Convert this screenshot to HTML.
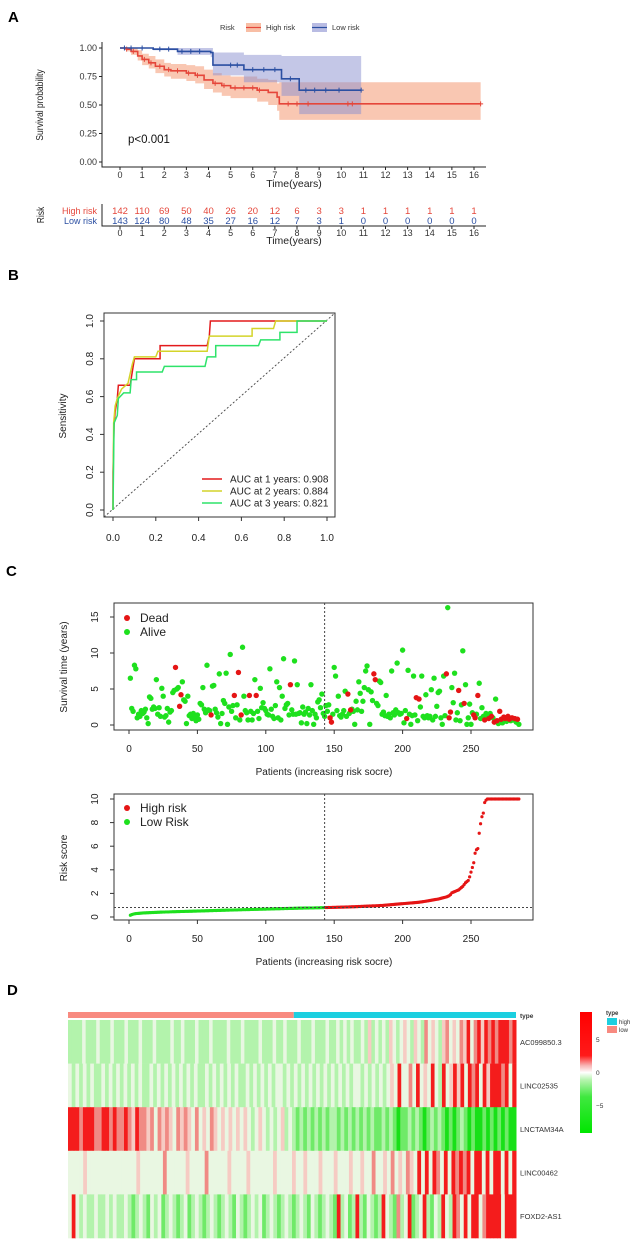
<!DOCTYPE html>
<html><head><meta charset="utf-8"><style>
html,body{margin:0;padding:0;background:#fff;}
svg{display:block;font-family:"Liberation Sans",Arial,sans-serif;}
</style></head><body>
<svg id="fig" width="636" height="1239" viewBox="0 0 636 1239" xmlns="http://www.w3.org/2000/svg">
<defs>
<linearGradient id="cbar" x1="0" y1="0" x2="0" y2="1">
<stop offset="0" stop-color="#ff0000"/><stop offset="0.36" stop-color="#ff1a1a"/><stop offset="0.44" stop-color="#f8b0b0"/><stop offset="0.5" stop-color="#ffffff"/><stop offset="0.56" stop-color="#b8f4b0"/><stop offset="0.7" stop-color="#40e840"/><stop offset="1" stop-color="#00e600"/>
</linearGradient>
</defs>
<text x="8" y="22" font-size="15" font-weight="bold">A</text>
<text x="8" y="280" font-size="15" font-weight="bold">B</text>
<text x="6" y="576" font-size="15" font-weight="bold">C</text>
<text x="7" y="995" font-size="15" font-weight="bold">D</text>
<g id="pa"></g>
<g id="pb"></g>
<g id="pc"></g>
<g id="pc2"></g>
<g id="pd"></g>
</svg>
<script>
// ---------- Panel A data ----------
const hiT=[0,0.3,0.5,0.8,1,1.3,1.6,2,2.3,3,3.4,3.8,4.2,4.6,5,6.2,6.7,7.1,7.2];
const hiS=[1,.99,.97,.93,.90,.87,.84,.81,.80,.78,.76,.72,.69,.67,.65,.63,.61,.57,.51];
const hiL=[1,.97,.94,.89,.85,.82,.78,.75,.73,.71,.69,.64,.61,.58,.56,.53,.50,.45,.37];
const hiU=[1,1,1,.98,.95,.93,.90,.87,.86,.85,.84,.81,.78,.76,.75,.73,.72,.69,.70];
const hiEnd=16.3;
const loT=[0,1.5,2.6,4.1,4.2,5.6,7.3,8.1];
const loS=[1,.99,.97,.96,.85,.81,.73,.63];
const loL=[1,.98,.94,.92,.76,.70,.58,.42];
const loU=[1,1,1,1,.96,.94,.93,.93];
const loEnd=10.9;
const hiCens=[0.3,0.6,1.1,1.4,1.8,2.2,2.6,3.1,3.5,4.3,4.7,5.2,5.6,6,6.3,7.6,8,8.5,10.3,10.5,16.3];
const loCens=[0.2,0.5,1,1.8,2.2,2.8,3.2,3.6,5,5.3,6,6.5,7,7.7,8.4,8.8,9.3,9.9,10.9];
const kmYTicks=["0.00","0.25","0.50","0.75","1.00"];
const riskHigh=[142,110,69,50,40,26,20,12,6,3,3,1,1,1,1,1,1];
const riskLow=[143,124,80,48,35,27,16,12,7,3,1,0,0,0,0,0,0];
// ---------- Panel B data ----------
const roc1x=[0,0,0.005,0.01,0.02,0.025,0.08,0.09,0.1,0.22,0.22,0.44,0.45,0.455,1];
const roc1y=[0,0.2,0.45,0.52,0.59,0.66,0.66,0.73,0.8,0.8,0.87,0.87,0.92,1,1];
const roc2x=[0,0.003,0.01,0.02,0.04,0.07,0.09,0.1,0.2,0.21,0.44,0.45,0.65,0.65,0.75,0.76,1];
const roc2y=[0,0.46,0.55,0.59,0.64,0.67,0.77,0.81,0.81,0.84,0.84,0.92,0.92,0.96,0.96,1,1];
const roc3x=[0,0.005,0.02,0.025,0.05,0.08,0.085,0.11,0.11,0.23,0.24,0.43,0.44,0.48,0.48,0.68,0.69,0.78,0.78,0.86,0.86,1];
const roc3y=[0,0.46,0.5,0.59,0.62,0.62,0.69,0.69,0.73,0.73,0.76,0.76,0.81,0.81,0.87,0.87,0.9,0.9,0.94,0.94,1,1];
const rocLabels=["AUC at 1 years: 0.908","AUC at 2 years: 0.884","AUC at 3 years: 0.821"];
const rocTicks=["0.0","0.2","0.4","0.6","0.8","1.0"];
// ---------- Panel C data ----------
const survTime=[6.5,2.3,1.9,8.3,7.8,1.0,1.5,1.2,2.0,1.6,1.8,2.2,1.0,0.2,3.9,
3.7,2.2,2.5,2.3,6.3,1.5,2.4,1.2,5.1,4.0,1.1,1.3,2.3,0.4,1.8,
2.0,4.5,4.8,8.0,5.0,5.2,2.6,4.2,6.0,3.5,3.3,0.2,4.0,1.3,1.5,
0.9,1.6,1.1,0.6,1.4,0.8,3.0,2.8,5.2,2.2,1.7,8.3,2.1,2.0,1.4,
5.4,5.5,2.2,1.7,1.1,7.1,0.2,1.6,3.4,3.0,7.2,0.1,2.5,9.8,1.9,
2.7,4.1,1.0,2.8,7.3,0.7,1.4,10.8,4.0,2.0,1.7,0.7,4.1,1.9,0.7,
1.6,6.3,4.1,1.9,0.9,5.1,2.4,3.1,2.3,2.0,1.5,1.4,7.8,2.2,1.2,
0.9,2.7,6.0,1.0,5.2,0.7,4.0,9.2,2.3,2.8,3.0,1.4,5.6,2.1,1.5,
8.9,1.5,5.6,1.6,1.7,0.3,2.5,1.5,1.8,0.2,2.3,1.4,5.6,2.0,0.1,
1.5,1.0,3.2,3.5,2.4,4.3,1.6,1.2,2.7,1.9,2.8,1.0,0.4,1.5,8.0,
6.8,2.0,4.0,1.3,1.1,1.5,2.0,4.7,1.2,4.3,1.6,2.1,2.2,1.9,0.1,
3.3,2.1,6.0,4.4,1.9,3.3,5.2,7.5,8.2,4.9,0.1,4.6,3.4,7.1,6.3,
3.0,2.7,6.1,5.9,1.5,1.8,1.3,4.1,1.2,1.5,1.0,7.5,1.7,1.4,2.1,
8.6,1.7,1.5,1.6,10.4,0.3,2.0,0.9,7.6,1.5,0.1,1.3,6.8,1.4,3.8,
0.6,3.6,2.5,6.8,1.2,1.0,4.2,1.3,1.0,1.2,4.9,0.7,6.5,1.2,2.6,
4.5,4.7,1.0,0.1,6.8,1.3,7.1,16.3,1.0,1.8,5.2,3.1,7.2,0.7,1.7,
4.8,0.6,2.8,10.3,3.0,5.6,0.1,1.0,2.9,0.1,1.7,1.4,1.0,1.5,4.1,
5.8,0.9,2.4,1.2,0.7,1.6,1.3,0.9,1.6,1.2,1.0,0.4,3.6,0.6,0.2,
1.9,0.8,0.3,1.1,0.9,0.5,1.2,0.8,0.6,1.0,0.7,0.9,0.4,0.8,0.1];
const deadIdx=[33,36,37,59,76,79,81,87,92,117,146,147,159,161,178,179,202,209,211,231,233,234,240,244,251,252,254,259,262,264,266,268,270,271,273,274,276,277,279,281,283];
const riskScore=[.15,.20,.24,.27,.29,.30,.31,.32,.33,.34,
.35,.35,.36,.36,.37,.37,.38,.38,.39,.39,
.40,.40,.41,.41,.42,.42,.43,.43,.43,.44,
.44,.45,.45,.45,.46,.46,.46,.47,.47,.47,
.48,.48,.48,.49,.49,.49,.50,.50,.50,.51,
.51,.51,.52,.52,.52,.53,.53,.53,.54,.54,
.54,.55,.55,.55,.56,.56,.56,.57,.57,.57,
.58,.58,.58,.59,.59,.59,.60,.60,.60,.61,
.61,.61,.62,.62,.62,.63,.63,.63,.64,.64,
.64,.65,.65,.65,.66,.66,.66,.67,.67,.67,
.68,.68,.68,.69,.69,.69,.70,.70,.70,.70,
.71,.71,.71,.72,.72,.72,.73,.73,.73,.73,
.74,.74,.74,.75,.75,.75,.75,.76,.76,.76,
.76,.77,.77,.77,.77,.78,.78,.78,.78,.79,.79,.79,.80,
.80,.80,.81,.81,.81,.82,.82,.82,.83,.83,
.83,.84,.84,.84,.85,.85,.85,.86,.86,.87,
.87,.87,.88,.88,.89,.89,.90,.90,.91,.91,
.92,.92,.93,.93,.94,.94,.95,.96,.96,.97,
.98,.98,.99,1.00,1.01,1.02,1.03,1.04,1.05,1.06,
1.07,1.08,1.09,1.10,1.11,1.12,1.13,1.14,1.15,1.16,
1.17,1.18,1.19,1.20,1.21,1.22,1.23,1.24,1.25,1.27,
1.28,1.30,1.32,1.34,1.36,1.38,1.40,1.42,1.44,1.46,
1.48,1.50,1.52,1.55,1.58,1.61,1.64,1.67,1.70,1.75,
1.80,1.90,2.05,2.10,2.15,2.20,2.25,2.30,2.40,2.50,
2.60,2.75,2.90,3.00,3.10,3.40,3.80,4.20,4.60,5.40,
5.70,5.80,7.10,7.90,8.50,8.80,9.70,9.90,10,10,
10,10,10,10,10,10,10,10,10,10,10,10,10,10,10,10,10,10,10,10,10,10];
const lowCount=143;
const riskCut=0.80;
const patTicks=[0,50,100,150,200,250];
const survTicks=[0,5,10,15];
const scoreTicks=[0,2,4,6,8,10];
// ---------- Panel D data ----------
const genes=["AC099850.3","LINC02535","LNCTAM34A","LINC00462","FOXD2-AS1"];
const heatRows=[
"2222322232223222322232223222232232223222322223222322223222322322232223222322323232232423232432343243253432453435463564656566656",
"3232323223232323232322323232323232322323232323223232323233232323232323232323233232323234363353634363263464636563646665636",
"666566655665655654655453545435454353435434343434323432323423212121212122121212121211212101121210121210101210100101010100",
"3333433333333333334333333533333433335333334333343333334333343343334333433343343353343534354363636536365656366363663636",
"363232232232322321232132312321231232123212321321232312321232123213212321623126213212632152361236213263265363663566663666"];
const heatPalette=["#18e018","#6fea68","#b3f3ac","#e9f7e2","#f6cbc3","#f08a84","#f41c1c"];
const typeSplit=0.504;

const svg=document.getElementById('fig');
const NS="http://www.w3.org/2000/svg";
function mk(tag,attrs,parent,txt){const e=document.createElementNS(NS,tag);for(const k in attrs)e.setAttribute(k,attrs[k]);if(txt!==undefined)e.textContent=txt;parent.appendChild(e);return e;}

// ================= Panel A =================
const pa=document.getElementById('pa');
const ax=t=>120+t*(474-120)/16, ay=s=>162-s*114;
function stepPath(T,S,end){let d="M"+ax(T[0])+","+ay(S[0]);for(let i=1;i<T.length;i++){d+=" H"+ax(T[i])+" V"+ay(S[i]);}d+=" H"+ax(end);return d;}
function band(T,L,U,end){let up=[],lo=[];for(let i=0;i<T.length;i++){const x0=ax(T[i]),x1=ax(i+1<T.length?T[i+1]:end);up.push(x0+","+ay(U[i]),x1+","+ay(U[i]));lo.push(x0+","+ay(L[i]),x1+","+ay(L[i]));}return up.concat(lo.reverse()).join(" ");}
function stepAt(T,S,t){let v=S[0];for(let i=0;i<T.length;i++)if(T[i]<=t)v=S[i];return v;}
let e;
e=mk('polygon',{points:band(hiT,hiL,hiU,hiEnd),fill:"#f5a27f","fill-opacity":"0.6"},pa);

e=mk('polygon',{points:band(loT,loL,loU,loEnd),fill:"#8a8fd0","fill-opacity":"0.5"},pa);

e=mk('path',{d:stepPath(hiT,hiS,hiEnd),fill:"none",stroke:"#e5463a","stroke-width":"1.6"},pa);

e=mk('path',{d:stepPath(loT,loS,loEnd),fill:"none",stroke:"#2b4fa2","stroke-width":"1.6"},pa);

hiCens.forEach(t=>{const x=ax(t),y=ay(stepAt(hiT,hiS,t));e=mk('path',{d:`M${x-2.5},${y}H${x+2.5}M${x},${y-2.5}V${y+2.5}`,stroke:"#e5463a","stroke-width":"1"},pa);
});
loCens.forEach(t=>{const x=ax(t),y=ay(stepAt(loT,loS,t));e=mk('path',{d:`M${x-2.5},${y}H${x+2.5}M${x},${y-2.5}V${y+2.5}`,stroke:"#2b4fa2","stroke-width":"1"},pa);
});
e=mk('path',{d:"M102,42V167H486",fill:"none",stroke:"#222","stroke-width":"1"},pa);

kmYTicks.forEach((l,i)=>{const y=ay(i*0.25);mk('line',{x1:99,x2:102,y1:y,y2:y,stroke:"#222"},pa);
e=mk('text',{x:97,y:y+3,"font-size":"9","text-anchor":"end",fill:"#333"},pa,l);
});
for(let i=0;i<=16;i++){const x=ax(i);mk('line',{x1:x,x2:x,y1:167,y2:170,stroke:"#222"},pa);
e=mk('text',{x:x,y:178,"font-size":"9","text-anchor":"middle",fill:"#333"},pa,String(i));
}
e=mk('text',{x:294,y:187,"font-size":"10.5","text-anchor":"middle",fill:"#222"},pa,"Time(years)");

e=mk('text',{x:0,y:0,"font-size":"10","text-anchor":"middle",fill:"#222",transform:"translate(43,105) rotate(-90) scale(0.85,1)"},pa,"Survival probability");

e=mk('text',{x:128,y:143,"font-size":"11.5",fill:"#111"},pa,"p<0.001");

e=mk('text',{x:220,y:30,"font-size":"7.5",fill:"#333"},pa,"Risk");

e=mk('rect',{x:246,y:23,width:15,height:9,fill:"#f5a27f","fill-opacity":"0.7"},pa);

mk('line',{x1:246,x2:261,y1:27.5,y2:27.5,stroke:"#e5463a","stroke-width":"1.2"},pa);
e=mk('text',{x:266,y:30,"font-size":"7.5",fill:"#333"},pa,"High risk");

e=mk('rect',{x:312,y:23,width:15,height:9,fill:"#8a8fd0","fill-opacity":"0.6"},pa);

mk('line',{x1:312,x2:327,y1:27.5,y2:27.5,stroke:"#2b4fa2","stroke-width":"1.2"},pa);
e=mk('text',{x:332,y:30,"font-size":"7.5",fill:"#333"},pa,"Low risk");

e=mk('text',{x:97,y:214,"font-size":"9","text-anchor":"end",fill:"#e5463a"},pa,"High risk");

e=mk('text',{x:97,y:224,"font-size":"9","text-anchor":"end",fill:"#2b4fa2"},pa,"Low risk");

riskHigh.forEach((v,i)=>{e=mk('text',{x:ax(i),y:214,"font-size":"9.5","text-anchor":"middle",fill:"#e5463a"},pa,String(v));
});
riskLow.forEach((v,i)=>{e=mk('text',{x:ax(i),y:224,"font-size":"9.5","text-anchor":"middle",fill:"#2b4fa2"},pa,String(v));
});
e=mk('path',{d:"M102,204V226H486",fill:"none",stroke:"#222","stroke-width":"1"},pa);

for(let i=0;i<=16;i++){const x=ax(i);mk('line',{x1:x,x2:x,y1:226,y2:229,stroke:"#222"},pa);
e=mk('text',{x:x,y:236,"font-size":"9","text-anchor":"middle",fill:"#333"},pa,String(i));
}
e=mk('text',{x:294,y:244,"font-size":"10.5","text-anchor":"middle",fill:"#222"},pa,"Time(years)");

e=mk('text',{x:0,y:0,"font-size":"10","text-anchor":"middle",fill:"#222",transform:"translate(44,215) rotate(-90) scale(0.85,1)"},pa,"Risk");


// ================= Panel B =================
const pb=document.getElementById('pb');
const bx=v=>113+v*(327-113), by=v=>510-v*(510-321);
e=mk('rect',{x:104,y:313,width:231,height:204,fill:"none",stroke:"#333","stroke-width":"1"},pb);

e=mk('line',{x1:104,y1:517,x2:335,y2:313,stroke:"#444","stroke-width":"0.9","stroke-dasharray":"2,2"},pb);

rocTicks.forEach((l,i)=>{const v=i*0.2;mk('line',{x1:bx(v),x2:bx(v),y1:517,y2:521,stroke:"#333"},pb);
e=mk('text',{x:bx(v),y:541,"font-size":"10","text-anchor":"middle",fill:"#222"},pb,l);

mk('line',{x1:100,x2:104,y1:by(v),y2:by(v),stroke:"#333"},pb);
e=mk('text',{x:0,y:0,"font-size":"10","text-anchor":"middle",fill:"#222",transform:`translate(93,${by(v)}) rotate(-90)`},pb,l);
});
e=mk('text',{x:0,y:0,"font-size":"10","text-anchor":"middle",fill:"#222",transform:"translate(66,416) rotate(-90)"},pb,"Sensitivity");

const rocCols=["#e31a1c","#d4d42a","#2ee36a"];
[[roc1x,roc1y],[roc2x,roc2y],[roc3x,roc3y]].forEach((r,k)=>{
 const pts=r[0].map((x,i)=>bx(x)+","+by(r[1][i])).join(" ");
 e=mk('polyline',{points:pts,fill:"none",stroke:rocCols[k],"stroke-width":"1.5"},pb);
 
 const ly=479+k*12;
 mk('line',{x1:202,x2:222,y1:ly,y2:ly,stroke:rocCols[k],"stroke-width":"1.5"},pb);
 e=mk('text',{x:230,y:ly+3.5,"font-size":"10",fill:"#222"},pb,rocLabels[k]);
 
});

// ================= Panel C top =================
const pc=document.getElementById('pc');
const cx=i=>129+i*(471-129)/250;
const cy=v=>725-v*(725-617)/15;
e=mk('rect',{x:114,y:603,width:419,height:127,fill:"none",stroke:"#333"},pc);

survTime.forEach((v,i)=>{if(deadIdx.includes(i))return;
 e=mk('circle',{cx:cx(i+1),cy:cy(v),r:2.7,fill:"#1ee01e"},pc);
 });
survTime.forEach((v,i)=>{if(!deadIdx.includes(i))return;
 e=mk('circle',{cx:cx(i+1),cy:cy(v),r:2.7,fill:"#e51515"},pc);
 });
e=mk('line',{x1:cx(lowCount),x2:cx(lowCount),y1:603,y2:730,stroke:"#444","stroke-dasharray":"2,2"},pc);

patTicks.forEach(t=>{mk('line',{x1:cx(t),x2:cx(t),y1:730,y2:734,stroke:"#333"},pc);
 e=mk('text',{x:cx(t),y:752,"font-size":"10","text-anchor":"middle",fill:"#222"},pc,String(t));
 });
survTicks.forEach(t=>{mk('line',{x1:110,x2:114,y1:cy(t),y2:cy(t),stroke:"#333"},pc);
 e=mk('text',{x:0,y:0,"font-size":"10","text-anchor":"middle",fill:"#222",transform:`translate(98,${cy(t)}) rotate(-90)`},pc,String(t));
 });
e=mk('text',{x:324,y:775,"font-size":"10","text-anchor":"middle",fill:"#222"},pc,"Patients (increasing risk socre)");

e=mk('text',{x:0,y:0,"font-size":"10","text-anchor":"middle",fill:"#222",transform:"translate(67,667) rotate(-90)"},pc,"Survival time (years)");

mk('circle',{cx:127,cy:618,r:3,fill:"#e51515"},pc);
e=mk('text',{x:140,y:622,"font-size":"12",fill:"#222"},pc,"Dead");

mk('circle',{cx:127,cy:632,r:3,fill:"#1ee01e"},pc);
e=mk('text',{x:140,y:636,"font-size":"12",fill:"#222"},pc,"Alive");


// ================= Panel C bottom =================
const pc2=document.getElementById('pc2');
const ry=v=>917-v*(917-799)/10;
e=mk('rect',{x:114,y:794,width:419,height:126,fill:"none",stroke:"#333"},pc2);

riskScore.forEach((v,i)=>{e=mk('circle',{cx:cx(i+1),cy:ry(v),r:1.6,fill:i<lowCount?"#1ee01e":"#e51515"},pc2);
 });
e=mk('line',{x1:cx(lowCount),x2:cx(lowCount),y1:794,y2:920,stroke:"#444","stroke-dasharray":"2,2"},pc2);

e=mk('line',{x1:114,x2:533,y1:ry(riskCut),y2:ry(riskCut),stroke:"#444","stroke-dasharray":"2,2"},pc2);

patTicks.forEach(t=>{mk('line',{x1:cx(t),x2:cx(t),y1:920,y2:924,stroke:"#333"},pc2);
 e=mk('text',{x:cx(t),y:942,"font-size":"10","text-anchor":"middle",fill:"#222"},pc2,String(t));
 });
scoreTicks.forEach(t=>{mk('line',{x1:110,x2:114,y1:ry(t),y2:ry(t),stroke:"#333"},pc2);
 e=mk('text',{x:0,y:0,"font-size":"10","text-anchor":"middle",fill:"#222",transform:`translate(98,${ry(t)}) rotate(-90)`},pc2,String(t));
 });
e=mk('text',{x:324,y:965,"font-size":"10","text-anchor":"middle",fill:"#222"},pc2,"Patients (increasing risk socre)");

e=mk('text',{x:0,y:0,"font-size":"10","text-anchor":"middle",fill:"#222",transform:"translate(67,858) rotate(-90)"},pc2,"Risk score");

mk('circle',{cx:127,cy:808,r:3,fill:"#e51515"},pc2);
e=mk('text',{x:140,y:812,"font-size":"12",fill:"#222"},pc2,"High risk");

mk('circle',{cx:127,cy:822,r:3,fill:"#1ee01e"},pc2);
e=mk('text',{x:140,y:826,"font-size":"12",fill:"#222"},pc2,"Low Risk");


// ================= Panel D =================
const pd=document.getElementById('pd');
const hx0=68,hx1=516,hy0=1020,rowH=43.6;
const split=hx0+(hx1-hx0)*typeSplit;
e=mk('rect',{x:hx0,y:1012,width:split-hx0,height:6,fill:"#f88a80"},pd);

e=mk('rect',{x:split,y:1012,width:hx1-split,height:6,fill:"#1ccfe0"},pd);

e=mk('text',{x:520,y:1018,"font-size":"6.5","font-weight":"bold",fill:"#333"},pd,"type");

heatRows.forEach((row,r)=>{const n=row.length,w=(hx1-hx0)/n;
 for(let c=0;c<n;c++){e=mk('rect',{x:hx0+c*w,y:hy0+r*rowH,width:w+0.5,height:rowH+0.3,fill:heatPalette[+row[c]]},pd);
 }
 e=mk('text',{x:520,y:hy0+r*rowH+rowH/2+3,"font-size":"7.5",fill:"#333"},pd,genes[r]);
 });
e=mk('rect',{x:580,y:1012,width:12,height:121,fill:"url(#cbar)"},pd);

[["5",1042],["0",1075],["\u22125",1108]].forEach(a=>{e=mk('text',{x:596,y:a[1],"font-size":"6.5",fill:"#333"},pd,a[0]);
 });
e=mk('text',{x:606,y:1015,"font-size":"6","font-weight":"bold",fill:"#333"},pd,"type");

e=mk('rect',{x:607,y:1018,width:10,height:7,fill:"#1ccfe0"},pd);

e=mk('text',{x:619,y:1024,"font-size":"6",fill:"#333"},pd,"high");

e=mk('rect',{x:607,y:1026,width:10,height:7,fill:"#f88a80"},pd);

e=mk('text',{x:619,y:1032,"font-size":"6",fill:"#333"},pd,"low");

</script>
</body></html>
